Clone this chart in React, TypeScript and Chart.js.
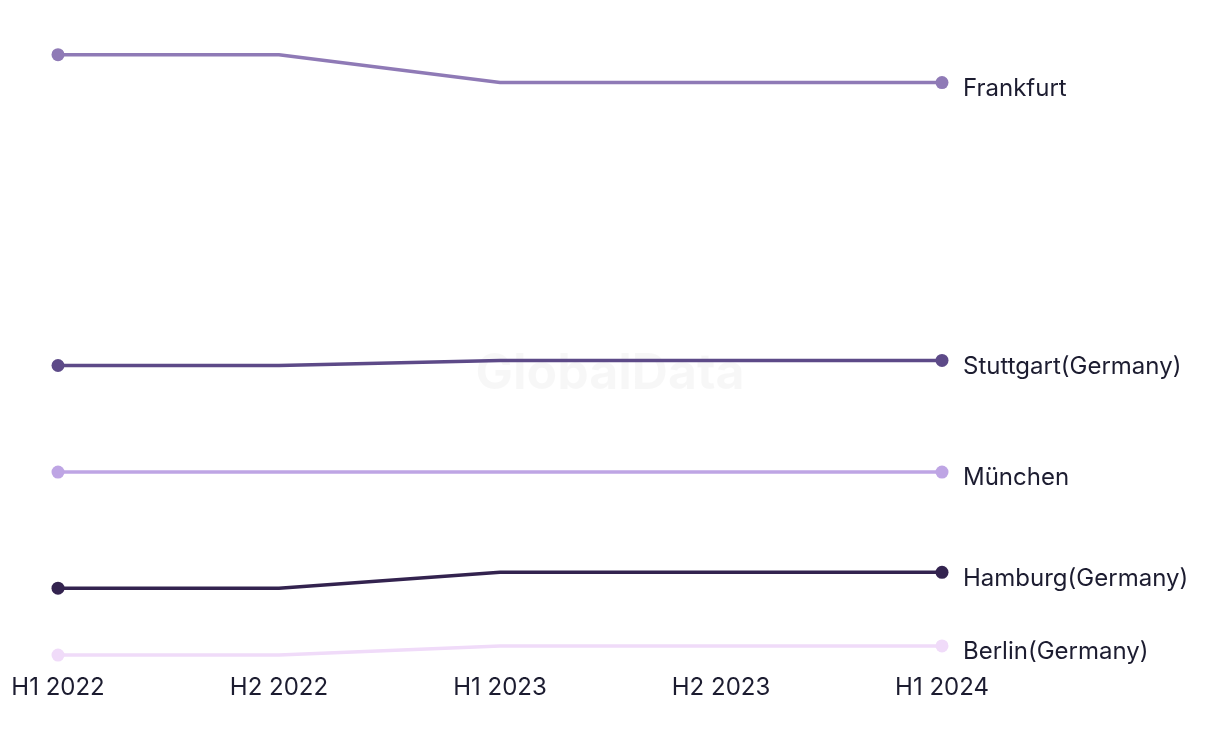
import React, { useEffect, useRef } from "react";
import { Chart, registerables } from "chart.js";

Chart.register(...registerables);

const categories = ["H1 2022", "H2 2022", "H1 2023", "H2 2023", "H1 2024"];
const seriesNames = ["Frankfurt", "Stuttgart(Germany)", "München", "Hamburg(Germany)", "Berlin(Germany)"];
const frankfurt = [95.8, 95.8, 91.4, 91.4, 91.4];
const stuttgart = [46.8, 46.8, 47.6, 47.6, 47.6];
const muenchen = [30.0, 30.0, 30.0, 30.0, 30.0];
const hamburg = [11.7, 11.7, 14.2, 14.2, 14.2];
const berlin = [1.15, 1.15, 2.6, 2.6, 2.6];
const seriesValues = [frankfurt, stuttgart, muenchen, hamburg, berlin];
const seriesColors = ["#8f7ab6", "#5d4a88", "#bea5e4", "#33234f", "#f0dbf9"];

const FONT = "Inter, 'Noto Sans', sans-serif";
const TEXT = "#1c1c30";

const endLabels = {
  id: "endLabels",
  afterDatasetsDraw(chart: any) {
    const ctx = chart.ctx;
    ctx.save();
    ctx.font = `24px ${FONT}`;
    ctx.fillStyle = TEXT;
    ctx.textAlign = "left";
    ctx.textBaseline = "middle";
    chart.data.datasets.forEach((ds: any, i: number) => {
      const meta = chart.getDatasetMeta(i);
      const pt = meta.data[meta.data.length - 1];
      if (!pt) return;
      ctx.fillText(ds.label, pt.x + 21, pt.y + 6);
    });
    ctx.restore();
  },
};

const watermark = {
  id: "watermark",
  beforeDatasetsDraw(chart: any) {
    const ctx = chart.ctx;
    ctx.save();
    ctx.font = `bold 50px ${FONT}`;
    ctx.fillStyle = "rgba(0,0,0,0.03)";
    ctx.textAlign = "center";
    ctx.textBaseline = "middle";
    ctx.fillText("GlobalData", chart.width / 2, 366);
    ctx.restore();
  },
};

export default function App() {
  const ref = useRef<HTMLCanvasElement | null>(null);
  useEffect(() => {
    if (!ref.current) return;
    const chart = new Chart(ref.current, {
      type: "line",
      data: {
        labels: categories,
        datasets: seriesNames.map((name, i) => ({
          label: name,
          data: seriesValues[i],
          borderColor: seriesColors[i],
          backgroundColor: seriesColors[i],
          borderWidth: 3.5,
          pointRadius: seriesValues[i].map((_, j) => (j === 0 || j === seriesValues[i].length - 1 ? 6.5 : 0)),
          pointHoverRadius: 6.5,
          pointBorderWidth: 0,
          tension: 0,
          fill: false,
          clip: false as any,
        })),
      },
      options: {
        animation: false,
        responsive: true,
        maintainAspectRatio: false,
        layout: { padding: { left: 50, right: 270, top: 20, bottom: 22.8 } },
        plugins: {
          legend: { display: false },
          tooltip: { enabled: false },
        },
        scales: {
          x: {
            offset: false,
            grid: { display: false },
            border: { display: false },
            ticks: {
              color: TEXT,
              font: { family: FONT, size: 24 },
              padding: 3,
              maxRotation: 0,
              autoSkip: false,
            },
          },
          y: {
            display: false,
            min: 0,
            max: 100,
          },
        },
      },
      plugins: [watermark, endLabels],
    });
    return () => chart.destroy();
  }, []);
  return (
    <div style={{ width: "100%", height: 720, position: "relative" }}>
      <canvas ref={ref} />
    </div>
  );
}
